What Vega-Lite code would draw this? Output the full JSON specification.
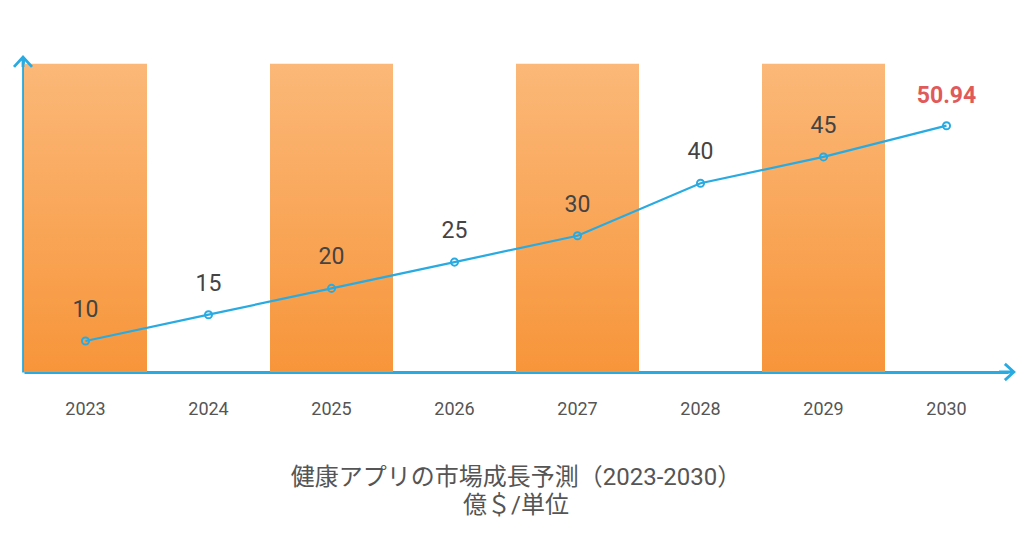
{
  "$schema": "https://vega.github.io/schema/vega-lite/v6.json",
  "width": 984,
  "height": 315,
  "autosize": {"type": "none"},
  "padding": {"left": 24, "top": 57, "right": 16, "bottom": 175},
  "background": "white",
  "config": {"view": {"stroke": null}, "font": "Roboto, 'Noto Sans CJK JP'"},
  "title": {
    "text": ["健康アプリの市場成長予測（2023-2030）", "億＄/単位"],
    "orient": "bottom",
    "anchor": "middle",
    "offset": 48,
    "fontSize": 24,
    "fontWeight": "normal",
    "color": "#555555",
    "font": "Roboto, 'Noto Sans CJK JP'",
    "lineHeight": 28
  },
  "data": {
    "values": [
      {"year": "2023", "value": 10, "label": "10", "bar": 1},
      {"year": "2024", "value": 15, "label": "15", "bar": 0},
      {"year": "2025", "value": 20, "label": "20", "bar": 1},
      {"year": "2026", "value": 25, "label": "25", "bar": 0},
      {"year": "2027", "value": 30, "label": "30", "bar": 1},
      {"year": "2028", "value": 40, "label": "40", "bar": 0},
      {"year": "2029", "value": 45, "label": "45", "bar": 1},
      {"year": "2030", "value": 50.94, "label": "50.94", "bar": 0}
    ]
  },
  "encoding": {
    "x": {
      "field": "year",
      "type": "ordinal",
      "scale": {"paddingInner": 0, "paddingOuter": 0},
      "axis": {
        "title": null,
        "labelAngle": 0,
        "labelFontSize": 18,
        "labelColor": "#555555",
        "labelPadding": 28,
        "ticks": false,
        "domainColor": "#29ABE2",
        "domainWidth": 2.8
      }
    }
  },
  "layer": [
    {
      "transform": [{"filter": "datum.bar === 1"}],
      "mark": {
        "type": "bar",
        "color": {
          "gradient": "linear",
          "x1": 0, "y1": 0, "x2": 0, "y2": 1,
          "stops": [
            {"offset": 0, "color": "#FBB878"},
            {"offset": 1, "color": "#F7953A"}
          ]
        }
      },
      "encoding": {
        "y": {
          "datum": 62.7,
          "type": "quantitative",
          "scale": {"domain": [4.1, 64], "nice": false, "zero": false},
          "axis": {
            "title": null,
            "labels": false,
            "ticks": false,
            "grid": false,
            "domainColor": "#29ABE2",
            "domainWidth": 2.8,
            "offset": 1
          }
        },
        "y2": {"datum": 4.1}
      }
    },
    {
      "mark": {"type": "line", "color": "#29ABE2", "strokeWidth": 2.2},
      "encoding": {"y": {"field": "value", "type": "quantitative"}}
    },
    {
      "mark": {"type": "point", "filled": false, "color": "#29ABE2", "strokeWidth": 2, "size": 50, "opacity": 1},
      "encoding": {"y": {"field": "value", "type": "quantitative"}}
    },
    {
      "transform": [{"filter": "datum.year !== '2030'"}],
      "mark": {"type": "text", "fontSize": 23, "color": "#444444", "baseline": "middle", "dy": -31, "font": "Roboto"},
      "encoding": {
        "y": {"field": "value", "type": "quantitative"},
        "text": {"field": "label"}
      }
    },
    {
      "transform": [{"filter": "datum.year === '2030'"}],
      "mark": {"type": "text", "fontSize": 23, "fontWeight": "bold", "color": "#E05A5A", "baseline": "middle", "dy": -30, "font": "Roboto"},
      "encoding": {
        "y": {"field": "value", "type": "quantitative"},
        "text": {"field": "label"}
      }
    },
    {
      "data": {"values": [{"a": 1}]},
      "mark": {
        "type": "point",
        "shape": "M-1,1.1 L0,0 L1,1.1 M0,0 L0,1.1",
        "filled": false,
        "color": "#29ABE2",
        "strokeWidth": 2.8,
        "size": 324,
        "opacity": 1,
        "xOffset": -1
      },
      "encoding": {
        "x": {"datum": "2023", "bandPosition": 0},
        "y": {"datum": 64, "type": "quantitative"}
      }
    },
    {
      "data": {"values": [{"a": 1}]},
      "mark": {
        "type": "point",
        "shape": "M-0.35,-0.9 L0.65,0 L-0.35,0.9 M-1,0 L0.65,0",
        "filled": false,
        "color": "#29ABE2",
        "strokeWidth": 2.8,
        "size": 324,
        "opacity": 1
      },
      "encoding": {
        "x": {"datum": "2030", "bandPosition": 1},
        "y": {"datum": 4.1, "type": "quantitative"}
      }
    }
  ]
}
